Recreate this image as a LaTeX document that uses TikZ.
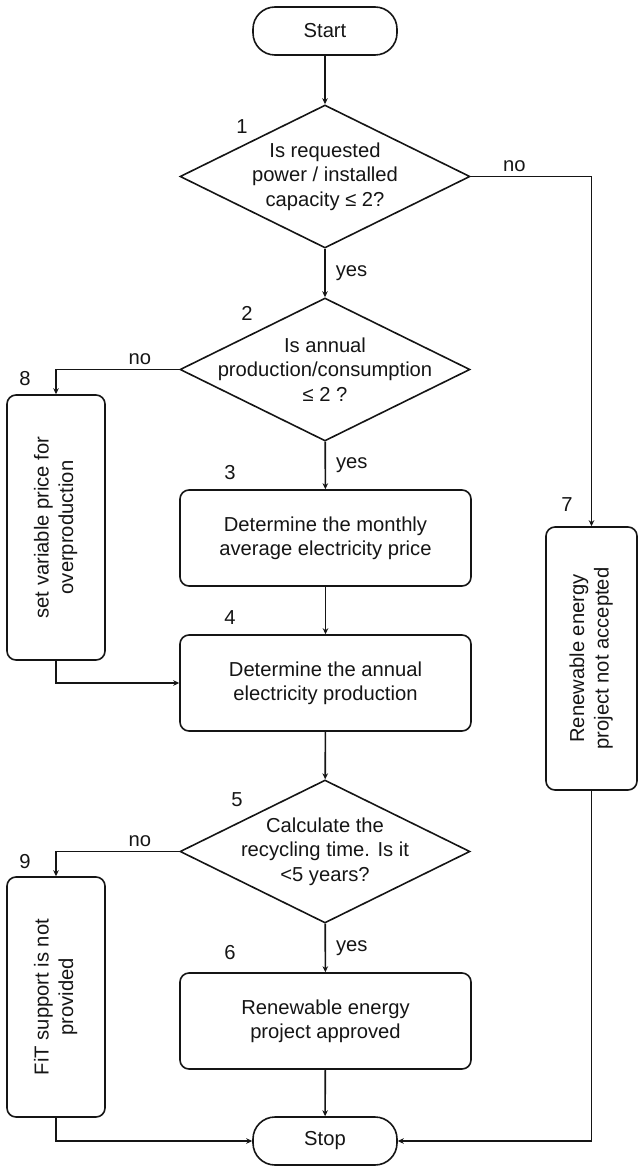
\documentclass[tikz,border=0pt]{standalone}
\usepackage{fontspec}
\setmainfont{Liberation Sans}
\usetikzlibrary{arrows.meta,shapes.geometric}
\definecolor{ink}{HTML}{151515}
\tikzset{
  >={Stealth[length=3pt,width=2.8pt]},
  every node/.style={font=\fontsize{10.1}{12.2}\selectfont,text=ink},
  line/.style={draw=ink,line width=0.8pt},
  arrow/.style={line,->},
  term/.style={line,rounded corners=11pt,minimum width=72pt,minimum height=24pt,inner sep=0pt},
  decision/.style={line,diamond,minimum width=145pt,minimum height=71.5pt,inner sep=0pt},
  dtext/.style={align=center,inner sep=0pt},
  proc/.style={line,rounded corners=4.5pt,minimum width=145.5pt,minimum height=48pt,align=center,inner sep=0pt},
  side/.style={line,rounded corners=4.5pt,minimum width=49pt,inner sep=0pt},
  num/.style={inner sep=0pt},
  answer/.style={inner sep=2pt}
}

\begin{document}
\begin{tikzpicture}[x=0.5pt,y=-0.5pt]
  \useasboundingbox (0,0) rectangle (639,1166);

  \node[term] (start) at (325,31) {Start};
  \node[decision,label={[dtext]center:{Is requested\\power / installed\\capacity ≤ 2?}}] (q1) at (325,176.5) {};
  \node[decision,label={[dtext]center:{Is annual\\production/consumption\\≤ 2 ?}}] (q2) at (325,369.5) {};
  \node[proc] (s3) at (325.5,538) {Determine the monthly\\average electricity price};
  \node[proc] (s4) at (325.5,683) {Determine the annual\\electricity production};
  \node[decision,label={[dtext]center:{Calculate the\\recycling time. Is it\\<5 years?}}] (q5) at (325,851.5) {};
  \node[proc] (s6) at (325.5,1021) {Renewable energy\\project approved};
  \node[term] (stop) at (325,1141) {Stop};

  \node[side,minimum height=132.5pt] (s8) at (56,527.5) {\rotatebox{90}{\begin{tabular}{@{}c@{}}set variable price for\\overproduction\end{tabular}}};
  \node[side,minimum height=120pt] (s9) at (56,997) {\rotatebox{90}{\begin{tabular}{@{}c@{}}FiT support is not\\provided\end{tabular}}};
  \node[side,minimum width=45.5pt,minimum height=131.5pt] (s7) at (591.5,658.5) {\rotatebox{90}{\begin{tabular}{@{}c@{}}Renewable energy\\project not accepted\end{tabular}}};

  \node[num] (n1) at (242,127) {1};
  \node[num] (n2) at (247,313) {2};
  \node[num] (n3) at (230,473) {3};
  \node[num] (n4) at (230,618) {4};
  \node[num] (n5) at (237,800) {5};
  \node[num] (n6) at (230,953) {6};
  \node[num] (n7) at (567,505) {7};
  \node[num] (n8) at (25,379) {8};
  \node[num] (n9) at (25,862) {9};

  \draw[arrow] (start)--(q1);
  \draw[arrow] (q1)--node[answer,right=3pt]{yes}(q2);
  \draw[arrow] (q1.east)-|node[answer,above,pos=0.18]{no}(s7);
  \draw[arrow] (q2)--node[answer,right=3pt]{yes}(s3);
  \draw[arrow] (q2.west)-|node[answer,above,pos=0.16]{no}(s8);
  \draw[arrow] (s3)--(s4);
  \draw[arrow] (s8)|-(s4);
  \draw[arrow] (s4)--(q5);
  \draw[arrow] (q5)--node[answer,right=3pt]{yes}(s6);
  \draw[arrow] (q5.west)-|node[answer,above,pos=0.16]{no}(s9);
  \draw[arrow] (s6)--(stop);
  \draw[arrow] (s9)|-(stop);
  \draw[arrow] (s7)|-(stop);
\end{tikzpicture}
\end{document}
